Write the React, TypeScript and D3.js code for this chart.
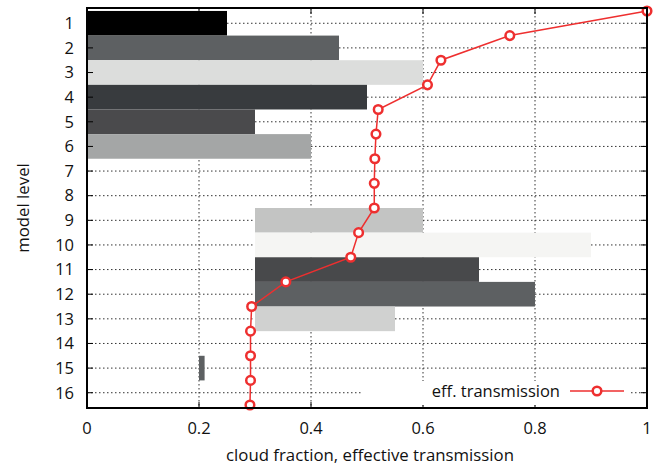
import React from "react";
import * as d3 from "d3";

const levels = [1, 2, 3, 4, 5, 6, 7, 8, 9, 10, 11, 12, 13, 14, 15, 16];
const barStart = [0, 0, 0, 0, 0, 0, 0, 0, 0.3, 0.3, 0.3, 0.3, 0.3, 0, 0.2, 0];
const barEnd = [0.25, 0.45, 0.6, 0.5, 0.3, 0.4, 0, 0, 0.6, 0.9, 0.7, 0.8, 0.55, 0, 0.21, 0];
const barColors = ["#000000", "#5d6062", "#dcdddc", "#383b3e", "#4a4a4c", "#a4a6a6", "#ffffff", "#ffffff", "#c3c4c3", "#f5f5f3", "#48494b", "#5d6062", "#d0d1d0", "#ffffff", "#5d6062", "#ffffff"];
const transLevels = [0.5, 1.5, 2.5, 3.5, 4.5, 5.5, 6.5, 7.5, 8.5, 9.5, 10.5, 11.5, 12.5, 13.5, 14.5, 15.5, 16.5];
const transValues = [1.0, 0.755, 0.632, 0.608, 0.52, 0.516, 0.514, 0.513, 0.513, 0.485, 0.471, 0.355, 0.294, 0.292, 0.292, 0.292, 0.291];
const xTicks = [0, 0.2, 0.4, 0.6, 0.8, 1];
const xTickLabels = ["0", "0.2", "0.4", "0.6", "0.8", "1"];

const W = 659, H = 470;
const L = 87, R = 647, T = 8, B = 408;
const RED = "#ee2f2f";
const FONT = "'Open Sans', 'Noto Sans', sans-serif";

export default function App() {
  const x = d3.scaleLinear().domain([0, 1]).range([L, R]);
  const y = d3.scaleLinear().domain([0.38, 16.62]).range([T, B]);
  const bw = y(1.5) - y(0.5);
  const line = d3.line<number>().x((d) => x(transValues[d])).y((d) => y(transLevels[d]));
  const idx = transValues.map((_, i) => i);

  return (
    <svg width={W} height={H} style={{ position: "absolute", left: 0, top: 0, background: "#fff" }} fontFamily={FONT}>
      <rect x={0} y={0} width={W} height={H} fill="#fff" />
      {/* grid */}
      {xTicks.slice(1, -1).map((t) => (
        <line key={"gx" + t} x1={x(t)} x2={x(t)} y1={T} y2={B} stroke="#333" strokeWidth={1} strokeDasharray="1.5,2.5" />
      ))}
      {levels.map((l) => (
        <line key={"gy" + l} x1={L} x2={R} y1={y(l)} y2={y(l)} stroke="#333" strokeWidth={1} strokeDasharray="1.5,2.5" />
      ))}
      {/* bars */}
      {levels.map((l, i) =>
        barEnd[i] > barStart[i] ? (
          <rect key={"b" + l} x={x(barStart[i])} y={y(l) - bw / 2} width={x(barEnd[i]) - x(barStart[i])} height={bw} fill={barColors[i]} />
        ) : null
      )}
      {/* ticks */}
      {xTicks.map((t) => (
        <g key={"xt" + t}>
          <line x1={x(t)} x2={x(t)} y1={B} y2={B - 6} stroke="#000" />
          <line x1={x(t)} x2={x(t)} y1={T} y2={T + 6} stroke="#000" />
        </g>
      ))}
      {levels.map((l) => (
        <g key={"yt" + l}>
          <line x1={L} x2={L + 6} y1={y(l)} y2={y(l)} stroke="#000" />
          <line x1={R} x2={R - 6} y1={y(l)} y2={y(l)} stroke="#000" />
        </g>
      ))}
      {/* legend background */}
      <rect x={362} y={381} width={268} height={24} fill="#fff" />
      {/* line */}
      <path d={line(idx) || ""} fill="none" stroke={RED} strokeWidth={1.5} />
      {idx.map((i) => (
        <circle key={"p" + i} cx={x(transValues[i])} cy={y(transLevels[i])} r={4.3} fill="#fff" stroke={RED} strokeWidth={2.5} />
      ))}
      {/* frame */}
      <rect x={L} y={T} width={R - L} height={B - T} fill="none" stroke="#000" strokeWidth={2} />
      {/* tick labels */}
      {xTicks.map((t, i) => (
        <text key={"xl" + t} x={x(t)} y={B + 20} dy="0.35em" textAnchor="middle" fontSize={16.5} fill="#111">{xTickLabels[i]}</text>
      ))}
      {levels.map((l) => (
        <text key={"yl" + l} x={L - 13} y={y(l)} dy="0.35em" textAnchor="end" fontSize={16.5} fill="#111">{l}</text>
      ))}
      <text x={370} y={455} dy="0.35em" textAnchor="middle" fontSize={16.8} fill="#111">cloud fraction, effective transmission</text>
      <text transform={`translate(23,${(T + B) / 2}) rotate(-90)`} dy="0.35em" textAnchor="middle" fontSize={16.8} fill="#111">model level</text>
      {/* legend */}
      <text x={560} y={391} dy="0.35em" textAnchor="end" fontSize={16.5} fill="#111">eff. transmission</text>
      <line x1={570} x2={624} y1={391} y2={391} stroke={RED} strokeWidth={1.5} />
      <circle cx={597} cy={391} r={4.3} fill="#fff" stroke={RED} strokeWidth={2.5} />
    </svg>
  );
}
